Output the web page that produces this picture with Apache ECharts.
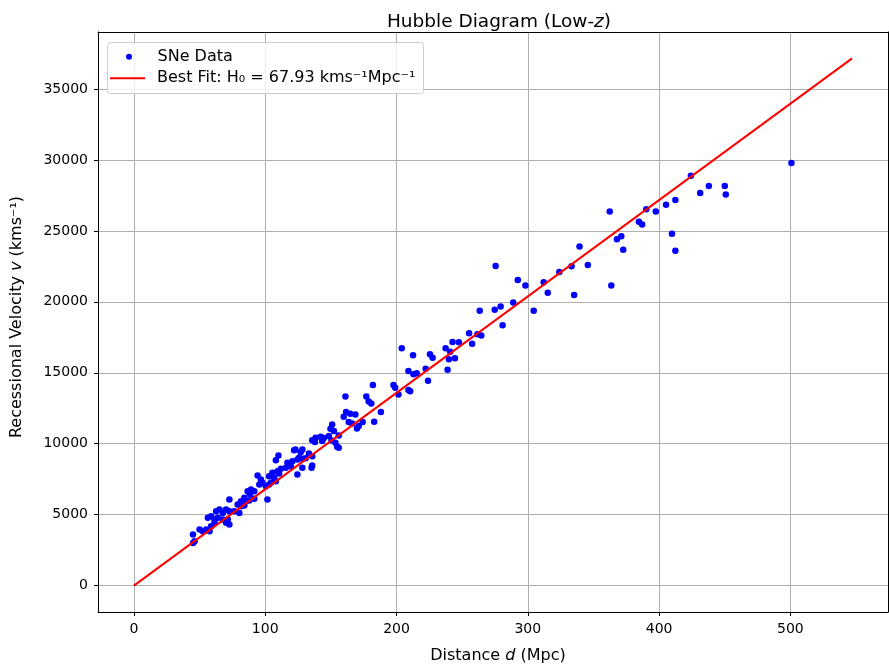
<!DOCTYPE html>
<html><head><meta charset="utf-8">
<script src="https://cdn.jsdelivr.net/npm/echarts@6/dist/echarts.min.js"></script>
<style>html,body{margin:0;padding:0;background:#fff}#c{width:889px;height:664px}</style>
</head><body><div id="c"></div>
<script>
// Data
const distances = [
45,46.2,45,50,52.5,55,57.6,58.8,61.4,56.3,58.8,61.4,63.9,67.7,70.2,72.7,71.5,62.6,65.2,67.7,70.2,72.7,76.5,80.3,79,81.6,84.1,72.7,81.6,84.1,85.4,87.9,91.7,101.7,86.6,89.2,91.7,88.4,95.5,97.9,100.5,103,94.2,96.7,105.5,103,106.8,108.1,104.3,111.9,109.3,110.6,116.9,119.5,115.7,110.1,108.1,
118.2,120.7,124.5,128.3,130.8,125.8,122,123,127,128.3,133.3,135.8,128.3,135.8,135.3,124.5,135.8,138.4,142.2,144.7,137.9,143.4,150.5,153.5,154.8,156,148.5,156,149.7,152.3,151,159.8,161.6,164.8,168.7,163.6,166.2,171.2,169.9,174.2,161.1,177,178.8,180.8,188.1,183,182,
197.7,199,201.5,209.1,210.4,204,212.6,209.1,212.9,215.4,222.2,224,225.5,227.5,237.4,240.9,239.9,244.5,238.9,242.7,247.5,255.3,257.6,261.6,264.6,263.4,274.8,279.3,280.8,275.5,288.9,292.4,298.2,304.5,
312.1,315.2,324,333.3,335.3,339.4,345.7,362.4,363.6,367.9,371.2,372.7,384.6,387.1,390.2,397.5,405.3,409.8,412.4,412.4,424.2,431.3,437.9,450,450.8,500.8
];
const velocities = [
3599,3126,3010,3952,3832,3952,3832,4184,4424,4777,4890,4657,4777,4657,4424,4305,4657,5244,5363,5127,5363,5244,5244,5127,5716,5598,5645,6069,5951,6186,5951,5998,6117,6069,6654,6774,6654,6422,7127,7244,7010,7127,7762,7480,7951,7715,7599,7362,7244,8232,8067,7904,8656,8420,8303,9174,8842,
8538,8774,8891,8938,8985,9010,9549,9597,9408,9597,9314,9126,8303,8468,8303,7833,10253,10420,10491,10397,10114,10186,10232,10068,9786,9715,10538,10585,11056,10890,11361,11904,12232,12114,12067,11527,11432,11245,11079,11527,13337,13337,12984,12843,12232,11550,14137,
14137,13950,13478,13784,13690,16725,16231,15125,14890,14960,15290,14444,16301,16066,16725,16490,15948,16019,15220,17172,17148,17783,17054,17714,17620,19370,19440,19676,18347,22533,19958,21546,21147,19370,
21382,20641,22108,22510,20487,23898,22604,26366,21147,24416,24628,23663,25637,25449,26532,26366,26837,24795,23592,27168,28880,27662,28156,28156,27570,29779
];
const fitDistances = [0, 547];
const fitVelocities = [0, 37158];
const xTicks = [0, 100, 200, 300, 400, 500];
const yTicks = [0, 5000, 10000, 15000, 20000, 25000, 30000, 35000];

const scatterData = distances.map((d, i) => [d, velocities[i]]);
const fitData = fitDistances.map((d, i) => [d, fitVelocities[i]]);

const FONT = 'DejaVu Sans';
const X_MIN = -27.35, X_MAX = 574.35, Y_MIN = -1858, Y_MAX = 39016;
const chart = echarts.init(document.getElementById('c'), null, {renderer: 'canvas'});
const lineStyle = {color: '#000', width: 1};
const tickStyle = {show: true, length: 4, lineStyle: {color: '#000', width: 1}};
const labelStyle = {color: '#000', fontFamily: FONT, fontSize: 14, margin: 10, formatter: v => String(v)};
const gridLine = {show: true, lineStyle: {color: '#b0b0b0', width: 1}};
const nameRich = {
  n: {fontFamily: FONT, fontSize: 16, color: '#000'},
  i: {fontFamily: FONT, fontSize: 16, color: '#000', fontStyle: 'italic'}
};
chart.setOption({
  animation: false,
  backgroundColor: '#fff',
  title: {
    text: '{n|Hubble Diagram (Low-}{i|z}{n|)}',
    left: 494, top: 8, textAlign: 'center',
    textStyle: {fontWeight: 'normal', rich: {
      n: {fontFamily: FONT, fontSize: 18.5, color: '#000', fontWeight: 'normal'},
      i: {fontFamily: FONT, fontSize: 18.5, color: '#000', fontStyle: 'italic', fontWeight: 'normal'}
    }}
  },
  grid: {left: 98, right: 1, top: 32, bottom: 52, containLabel: false, outerBoundsMode: 'none'},
  xAxis: [{
    type: 'value', min: X_MIN, max: X_MAX, position: 'bottom',
    axisLine: {show: true, onZero: false, lineStyle: lineStyle},
    axisTick: Object.assign({}, tickStyle, {customValues: xTicks}),
    axisLabel: Object.assign({}, labelStyle, {customValues: xTicks}),
    splitLine: gridLine,
    name: '{n|Distance }{i|d}{n| (Mpc)}',
    nameLocation: 'middle', nameGap: 36,
    nameTextStyle: {rich: nameRich, padding: [0, 0, 0, 10]}
  }, {
    type: 'value', min: X_MIN, max: X_MAX, position: 'top',
    axisLine: {show: true, onZero: false, lineStyle: lineStyle},
    axisTick: {show: false}, axisLabel: {show: false}, splitLine: {show: false}
  }],
  yAxis: [{
    type: 'value', min: Y_MIN, max: Y_MAX, position: 'left',
    axisLine: {show: true, onZero: false, lineStyle: lineStyle},
    axisTick: Object.assign({}, tickStyle, {customValues: yTicks}),
    axisLabel: Object.assign({}, labelStyle, {customValues: yTicks}),
    splitLine: gridLine,
    name: '{n|Recessional Velocity }{i|v}{n| (kms⁻¹)}',
    nameLocation: 'middle', nameGap: 73, nameRotate: 90,
    nameTextStyle: {rich: nameRich, padding: [0, 0, 0, 10]}
  }, {
    type: 'value', min: Y_MIN, max: Y_MAX, position: 'right',
    axisLine: {show: true, onZero: false, lineStyle: lineStyle},
    axisTick: {show: false}, axisLabel: {show: false}, splitLine: {show: false}
  }],
  graphic: [{
    type: 'rect', left: 107, top: 42, z: 3,
    shape: {width: 316, height: 51, r: 3},
    style: {fill: 'rgba(255,255,255,0.8)', stroke: '#cccccc', lineWidth: 1}
  }],
  legend: [
    {data: ['SNe Data'], left: 126, top: 47.7, padding: 0, itemWidth: 35, itemHeight: 6,
     icon: 'circle', z: 5,
     textStyle: {fontFamily: FONT, fontSize: 16, color: '#000', lineHeight: 18, padding: [0, 0, 0, 6]}},
    {data: ['Best Fit: H₀ = 67.93 kms⁻¹Mpc⁻¹'], left: 110, top: 69.3, padding: 0, itemWidth: 35, itemHeight: 2,
     icon: 'rect', z: 5,
     textStyle: {fontFamily: FONT, fontSize: 16, color: '#000', lineHeight: 18, padding: [0, 0, 0, 7]}}
  ],
  series: [
    {name: 'SNe Data', type: 'scatter', data: scatterData, symbol: 'circle', symbolSize: 6.5,
     itemStyle: {color: '#0000ff', opacity: 1}, z: 2},
    {name: 'Best Fit: H₀ = 67.93 kms⁻¹Mpc⁻¹', type: 'line', data: fitData, showSymbol: false, symbol: 'none',
     lineStyle: {color: '#ff0000', width: 2}, itemStyle: {color: '#ff0000'}, z: 3}
  ]
});
</script></body></html>
